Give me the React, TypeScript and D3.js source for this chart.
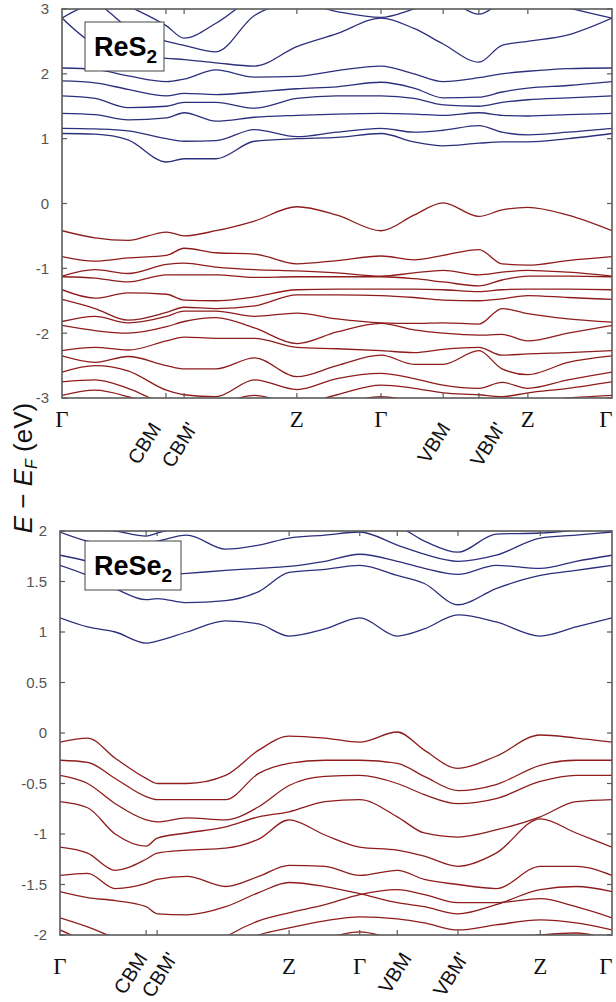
import React from "react";
import * as d3 from "d3";

// ---- ReS2 (top panel) ----
const reS2K = [0, 0.06, 0.12, 0.19, 0.222, 0.28, 0.35, 0.427, 0.5, 0.58, 0.64, 0.693, 0.758, 0.8, 0.847, 0.92, 1.0];

const reS2Conduction = [
  [1.08, 1.07, 0.98, 0.64, 0.69, 0.69, 0.96, 1.0, 1.02, 1.08, 0.95, 0.89, 0.93, 0.95, 0.95, 1.0, 1.08],
  [1.16, 1.15, 1.12, 1.0, 0.96, 0.97, 1.14, 1.03, 1.1, 1.16, 1.1, 1.13, 1.2, 1.1, 1.06, 1.1, 1.16],
  [1.39, 1.37, 1.29, 1.32, 1.4, 1.27, 1.33, 1.36, 1.38, 1.39, 1.38, 1.36, 1.4, 1.36, 1.35, 1.37, 1.39],
  [1.66, 1.62, 1.48, 1.5, 1.56, 1.56, 1.47, 1.62, 1.66, 1.66, 1.62, 1.52, 1.5, 1.56, 1.6, 1.63, 1.66],
  [1.89, 1.86, 1.76, 1.66, 1.7, 1.68, 1.72, 1.77, 1.8, 1.87, 1.78, 1.63, 1.64, 1.72, 1.78, 1.82, 1.88],
  [2.09, 2.07, 1.97, 1.88, 1.92, 2.06, 1.95, 1.96, 2.05, 2.12, 2.0, 1.88, 1.94, 2.0, 2.04, 2.08, 2.09],
  [2.86, 2.45, 2.32, 2.24, 2.22, 2.17, 2.12, 2.42, 2.62, 2.86, 2.7, 2.46, 2.18, 2.44, 2.5, 2.6, 2.86],
  [2.86, 3.06, 2.72, 2.5, 2.44, 2.34, 2.9, 3.1, 2.96, 2.87, 3.0, 3.15, 2.92, 3.1, 3.2, 3.02, 2.86],
  [3.5, 3.3, 3.05, 2.74, 2.55, 2.78, 3.2, 3.5, 3.5, 3.4, 3.3, 3.3, 3.3, 3.3, 3.4, 3.3, 3.5],
];

const reS2Valence = [
  [-0.42, -0.53, -0.57, -0.44, -0.5, -0.42, -0.27, -0.05, -0.18, -0.42, -0.18, 0.01, -0.2, -0.1, -0.06, -0.18, -0.42],
  [-0.82, -0.89, -0.84, -0.8, -0.69, -0.76, -0.78, -0.93, -0.88, -0.81, -0.87, -0.8, -0.71, -0.93, -0.95, -0.88, -0.82],
  [-1.12, -1.02, -1.08, -0.94, -0.92, -0.98, -1.02, -1.04, -1.07, -1.12, -1.07, -1.03, -1.1, -1.06, -1.03, -1.06, -1.12],
  [-1.13, -1.15, -1.21, -1.1, -1.1, -1.1, -1.14, -1.13, -1.13, -1.13, -1.16, -1.21, -1.27, -1.18, -1.12, -1.12, -1.13],
  [-1.33, -1.46, -1.38, -1.4, -1.49, -1.5, -1.44, -1.33, -1.32, -1.32, -1.32, -1.33, -1.36, -1.33, -1.32, -1.32, -1.33],
  [-1.48, -1.62, -1.8, -1.68, -1.6, -1.62, -1.58, -1.41, -1.41, -1.42, -1.45, -1.49, -1.5, -1.47, -1.42, -1.45, -1.48],
  [-1.82, -1.74, -1.84, -1.74, -1.66, -1.66, -1.74, -1.69, -1.78, -1.84, -1.85, -1.84, -1.86, -1.62, -1.7, -1.78, -1.83],
  [-1.88, -1.96, -2.0, -1.9, -1.82, -1.76, -1.92, -2.16, -1.98, -1.85, -1.95, -2.0, -2.03, -2.02, -2.12, -2.0, -1.88],
  [-2.27, -2.22, -2.26, -2.12, -2.06, -2.08, -2.08, -2.22, -2.24, -2.27, -2.3, -2.25, -2.22, -2.34, -2.32, -2.3, -2.27],
  [-2.35, -2.45, -2.36, -2.5, -2.55, -2.55, -2.38, -2.67, -2.5, -2.34, -2.48, -2.48, -2.27, -2.55, -2.64, -2.45, -2.35],
  [-2.6, -2.5, -2.58, -2.88, -2.95, -2.98, -2.72, -2.87, -2.7, -2.62, -2.7, -2.8, -2.85, -2.76, -2.85, -2.72, -2.6],
  [-2.75, -2.72, -2.85, -3.1, -3.15, -3.1, -2.96, -3.1, -2.95, -2.8, -2.85, -2.92, -2.95, -2.98, -2.92, -2.85, -2.75],
  [-2.96, -2.88, -2.98, -3.2, -3.3, -3.25, -3.1, -3.2, -3.1, -2.98, -3.05, -3.1, -3.1, -3.1, -3.05, -3.0, -2.96],
];

const reS2Ticks = [-3, -2, -1, 0, 1, 2, 3];
const reS2PointK = [0, 0.189, 0.222, 0.427, 0.58, 0.693, 0.758, 0.847, 1];

// ---- ReSe2 (bottom panel) ----
const reSe2K = [0, 0.05, 0.1, 0.156, 0.176, 0.23, 0.3, 0.36, 0.415, 0.48, 0.543, 0.611, 0.66, 0.721, 0.79, 0.87, 0.935, 1.0];

const reSe2Conduction = [
  [1.14, 1.05, 1.0, 0.89, 0.91, 1.0, 1.11, 1.08, 0.96, 1.03, 1.14, 0.96, 1.03, 1.17, 1.1, 0.96, 1.05, 1.14],
  [1.66, 1.56, 1.43, 1.32, 1.33, 1.29, 1.31, 1.4, 1.59, 1.62, 1.66, 1.56, 1.48, 1.27, 1.43, 1.56, 1.61, 1.66],
  [1.76, 1.7, 1.62, 1.57, 1.56, 1.58, 1.61, 1.63, 1.65, 1.7, 1.77, 1.7, 1.63, 1.57, 1.66, 1.63, 1.7, 1.76],
  [1.99, 1.9, 1.86, 1.88, 1.9, 1.96, 1.82, 1.86, 1.93, 1.96, 1.99, 1.86, 1.77, 1.7, 1.76, 1.93, 1.96, 1.99],
  [2.05, 2.02, 2.0, 1.95, 1.98, 2.05, 2.1, 2.06, 2.02, 2.02, 2.03, 2.03, 1.9, 1.79, 1.97, 1.98, 2.01, 2.05],
];

const reSe2Valence = [
  [-0.09, -0.05, -0.25, -0.45, -0.5, -0.5, -0.42, -0.17, -0.03, -0.05, -0.09, 0.01, -0.17, -0.35, -0.23, -0.02, -0.05, -0.09],
  [-0.27, -0.29, -0.45, -0.63, -0.66, -0.66, -0.66, -0.4, -0.3, -0.27, -0.27, -0.3, -0.43, -0.57, -0.51, -0.32, -0.27, -0.27],
  [-0.42, -0.5, -0.7, -0.86, -0.88, -0.84, -0.86, -0.73, -0.52, -0.43, -0.42, -0.5, -0.61, -0.7, -0.65, -0.48, -0.42, -0.42],
  [-0.68, -0.74, -1.0, -1.12, -1.04, -0.99, -0.93, -0.83, -0.78, -0.68, -0.66, -0.83, -0.99, -1.03, -0.96, -0.83, -0.68, -0.66],
  [-1.13, -1.19, -1.36, -1.25, -1.19, -1.16, -1.14, -1.05, -0.86, -1.01, -1.13, -1.16, -1.22, -1.32, -1.19, -0.85, -0.99, -1.13],
  [-1.41, -1.39, -1.54, -1.49, -1.45, -1.42, -1.52, -1.42, -1.31, -1.32, -1.41, -1.36, -1.45, -1.5, -1.54, -1.32, -1.32, -1.41],
  [-1.57, -1.63, -1.66, -1.72, -1.79, -1.8, -1.72, -1.58, -1.48, -1.52, -1.59, -1.68, -1.72, -1.79, -1.7, -1.55, -1.52, -1.57],
  [-1.83, -1.92, -2.03, -2.15, -2.2, -2.3, -2.02, -1.86, -1.78, -1.7, -1.6, -1.55, -1.6, -1.68, -1.68, -1.64, -1.72, -1.83],
  [-1.95, -2.08, -2.25, -2.4, -2.45, -2.35, -2.15, -2.0, -1.93, -1.86, -1.82, -1.84, -1.88, -1.95, -1.9, -1.85, -1.88, -1.95],
  [-2.05, -2.2, -2.4, -2.6, -2.6, -2.5, -2.3, -2.15, -2.08, -2.03, -1.97, -2.05, -2.1, -2.08, -2.05, -2.0, -1.98, -2.05],
];

const reSe2Ticks = [-2, -1.5, -1, -0.5, 0, 0.5, 1, 1.5, 2];
const reSe2PointK = [0, 0.156, 0.176, 0.415, 0.543, 0.611, 0.721, 0.87, 1];

const pointNames = ["Γ", "CBM", "CBM'", "Z", "Γ", "VBM", "VBM'", "Z", "Γ"];

const BLUE = "#2c2f7c";
const RED = "#8e1c1c";
const AXIS = "#5a5a5a";
const SANS = "'Liberation Sans', Arial, sans-serif";
const SERIF = "'Liberation Serif', 'Times New Roman', serif";

type PanelProps = {
  id: string;
  k: number[];
  cond: number[][];
  val: number[][];
  yDomain: [number, number];
  yTicks: number[];
  pointK: number[];
  box: { left: number; right: number; top: number; bottom: number };
  labelBaseline: number;
  rotBaseline: number;
  rotOffsets: number[];
  title: string;
  titleBox: { x: number; y: number; w: number; h: number };
};

function BandPanel(p: PanelProps) {
  const { left, right, top, bottom } = p.box;
  const x = d3.scaleLinear().domain([0, 1]).range([left, right]);
  const y = d3.scaleLinear().domain(p.yDomain).range([bottom, top]);
  const line = d3
    .line<number>()
    .x((_, i) => x(p.k[i]))
    .y((d) => y(d))
    .curve(d3.curveMonotoneX);

  const clipId = `clip-${p.id}`;
  const inner = p.pointK.slice(1, -1);
  let r = 0;

  return (
    <g>
      <defs>
        <clipPath id={clipId}>
          <rect x={left} y={top} width={right - left} height={bottom - top} />
        </clipPath>
      </defs>
      <g clipPath={`url(#${clipId})`} fill="none" strokeWidth={1.3} strokeLinejoin="round">
        {p.val.map((b, i) => (
          <path key={"v" + i} d={line(b) || ""} stroke={RED} />
        ))}
        {p.cond.map((b, i) => (
          <path key={"c" + i} d={line(b) || ""} stroke={BLUE} />
        ))}
      </g>

      {/* frame */}
      <rect x={left} y={top} width={right - left} height={bottom - top} fill="none" stroke={AXIS} strokeWidth={1.6} />

      {/* y ticks, both sides, pointing in */}
      {p.yTicks.map((t) => (
        <g key={"yt" + t}>
          <line x1={left} x2={left + 5} y1={y(t)} y2={y(t)} stroke={AXIS} strokeWidth={1.2} />
          <line x1={right} x2={right - 5} y1={y(t)} y2={y(t)} stroke={AXIS} strokeWidth={1.2} />
          <text x={left - 13} y={y(t)} dy="0.36em" textAnchor="end" fontFamily={SANS} fontSize={15} fill="#555">
            {String(t)}
          </text>
        </g>
      ))}

      {/* k-point ticks on top and bottom */}
      {inner.map((kk, i) => (
        <g key={"kt" + i}>
          <line x1={x(kk)} x2={x(kk)} y1={bottom} y2={bottom - 5} stroke={AXIS} strokeWidth={1.2} />
          <line x1={x(kk)} x2={x(kk)} y1={top} y2={top + 5} stroke={AXIS} strokeWidth={1.2} />
        </g>
      ))}

      {/* k-point labels */}
      {p.pointK.map((kk, i) => {
        const name = pointNames[i];
        if (name.length === 1) {
          const last = i === p.pointK.length - 1;
          return (
            <text
              key={"kl" + i}
              x={last ? x(kk) - 6 : x(kk)}
              y={p.labelBaseline}
              textAnchor="middle"
              fontFamily={SERIF}
              fontSize={23}
              fill="#111"
            >
              {name}
            </text>
          );
        }
        const ax = x(kk) + p.rotOffsets[r++];
        return (
          <text
            key={"kl" + i}
            transform={`translate(${ax},${p.rotBaseline}) rotate(-58)`}
            textAnchor="end"
            fontFamily={SANS}
            fontSize={20}
            fill="#111"
          >
            {name}
          </text>
        );
      })}

      {/* material label */}
      <rect x={p.titleBox.x} y={p.titleBox.y} width={p.titleBox.w} height={p.titleBox.h} fill="#fff" stroke="#444" strokeWidth={1} />
      <text x={p.titleBox.x + 9} y={p.titleBox.y + 34} fontFamily={SANS} fontWeight="bold" fontSize={27} fill="#000">
        {p.title}
        <tspan fontSize={19} dy={7}>2</tspan>
      </text>
    </g>
  );
}

export default function App() {
  return (
    <div style={{ position: "absolute", left: 0, top: 0, background: "#fff" }}>
      <svg width={616} height={1002} viewBox="0 0 616 1002" style={{ display: "block" }}>
        <rect width={616} height={1002} fill="#fff" />
        <BandPanel
          id="res2"
          k={reS2K}
          cond={reS2Conduction}
          val={reS2Valence}
          yDomain={[-3, 3]}
          yTicks={reS2Ticks}
          pointK={reS2PointK}
          box={{ left: 62, right: 612, top: 9, bottom: 398 }}
          labelBaseline={427}
          rotBaseline={428}
          rotOffsets={[-4, 14, 8, 27]}
          title="ReS"
          titleBox={{ x: 85, y: 22, w: 79, h: 49 }}
        />
        <BandPanel
          id="rese2"
          k={reSe2K}
          cond={reSe2Conduction}
          val={reSe2Valence}
          yDomain={[-2, 2]}
          yTicks={reSe2Ticks}
          pointK={reSe2PointK}
          box={{ left: 60, right: 612, top: 531, bottom: 935 }}
          labelBaseline={974}
          rotBaseline={958}
          rotOffsets={[2, 21, 15, 11]}
          title="ReSe"
          titleBox={{ x: 85, y: 541, w: 96, h: 49 }}
        />
        <text
          transform="translate(32,468) rotate(-90)"
          textAnchor="middle"
          fontFamily={SANS}
          fontSize={26}
          fill="#111"
        >
          <tspan fontStyle="italic">E</tspan>
          {" \u2212 "}
          <tspan fontStyle="italic">E</tspan>
          <tspan fontStyle="italic" fontSize={16} dy={5}>F</tspan>
          <tspan dy={-5}> (eV)</tspan>
        </text>
      </svg>
    </div>
  );
}
